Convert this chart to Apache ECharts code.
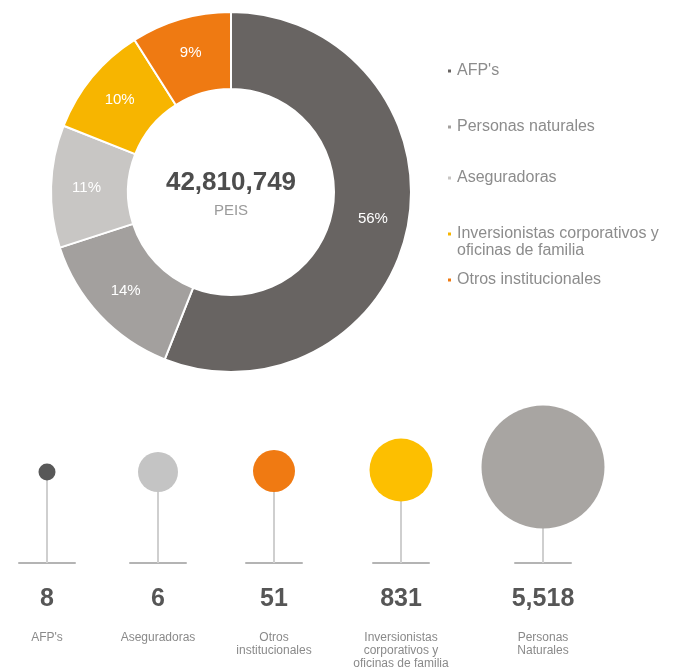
<!DOCTYPE html>
<html>
<head>
<meta charset="utf-8">
<script src="https://cdn.jsdelivr.net/npm/echarts@6/dist/echarts.min.js"></script>
<style>
    html, body { margin: 0; padding: 0; background: #fff; }
    #main { width: 682px; height: 667px; }
</style>
</head>
<body>
<div id="main"></div>
<script>
// donut: share by investor type (%)
let pieNames = ["AFP's", 'Personas naturales', 'Aseguradoras', 'Inversionistas corporativos y oficinas de familia', 'Otros institucionales'];
let pieShares = [56, 14, 11, 10, 9];
let totalValue = '42,810,749';
let totalUnit = 'PEIS';

// lollipops: number of holders by investor type
let holderNames = ["AFP's", 'Aseguradoras', 'Otros\ninstitucionales', 'Inversionistas\ncorporativos y\noficinas de familia', 'Personas\nNaturales'];
let holderCounts = [8, 6, 51, 831, 5518];

// styles / layout
let pieColors = ['#686462', '#a3a09e', '#c8c6c4', '#f7b500', '#ef7a12'];
let legendMid = [66, 122, 173, 228, 275];
let holderColors = ['#585858', '#c4c4c4', '#f07a12', '#fdbf00', '#a8a5a2'];
let holderX = [47, 158, 274, 401, 543];
let holderY = [472, 472, 471, 470, 467];
let holderDiam = [17, 40, 42, 63, 123];

// small square marker sitting on the first text line (works for 1 or 2 lines)
let topSquare = 'path://M0,0L0.01,0L0.01,0.01Z M0,6L5,6L5,11L0,11Z M0,33.99L0.01,33.99L0.01,34Z';

let chart = echarts.init(document.getElementById('main'));

let legends = pieNames.map(function (name, i) {
    let twoLines = name.indexOf(' y ') > -1;
    return {
        left: 441,
        top: legendMid[i] - 8.5,
        orient: 'vertical',
        selectedMode: false,
        data: [name],
        icon: twoLines ? topSquare : 'rect',
        itemWidth: 5,
        itemHeight: twoLines ? 34 : 5,
        textStyle: {
            fontFamily: 'Liberation Sans',
            fontSize: 16,
            lineHeight: 17,
            color: '#8c8c8c'
        },
        formatter: function (n) {
            return n.replace(' y ', ' y\n');
        }
    };
});

let grids = [], xAxes = [], yAxes = [], series = [];

series.push({
    type: 'pie',
    center: [231, 192],
    radius: [103, 180],
    startAngle: 90,
    clockwise: true,
    silent: true,
    itemStyle: {borderColor: '#fff', borderWidth: 2},
    label: {
        show: true,
        position: 'inside',
        formatter: '{c}%',
        color: '#fff',
        fontFamily: 'Liberation Sans',
        fontSize: 15
    },
    labelLine: {show: false},
    data: pieNames.map(function (name, i) {
        return {name: name, value: pieShares[i], itemStyle: {color: pieColors[i]}};
    })
});

holderNames.forEach(function (name, i) {
    grids.push({
        left: holderX[i] - 28,
        width: 56,
        top: holderY[i],
        bottom: 104,
        outerBoundsMode: 'none'
    });
    xAxes.push({
        type: 'category',
        gridIndex: i,
        data: [name],
        axisLine: {lineStyle: {color: '#b4b4b4', width: 2}},
        axisTick: {show: false},
        axisLabel: {
            interval: 0,
            margin: 5,
            formatter: function (n) {
                let lines = n.split('\n').map(function (l) {
                    return '{name|' + l + '}';
                });
                return '{num|' + holderCounts[i].toLocaleString('en-US') + '}\n' + lines.join('\n');
            },
            rich: {
                num: {
                    fontFamily: 'Liberation Sans',
                    fontWeight: 'bold',
                    fontSize: 25,
                    lineHeight: 63,
                    color: '#565656'
                },
                name: {
                    fontFamily: 'Liberation Sans',
                    fontSize: 12,
                    lineHeight: 13,
                    color: '#8a8a8a'
                }
            }
        }
    });
    yAxes.push({
        type: 'value',
        gridIndex: i,
        min: 0,
        max: 'dataMax',
        show: false
    });
    series.push({
        type: 'bar',
        xAxisIndex: i,
        yAxisIndex: i,
        barWidth: 2,
        silent: true,
        itemStyle: {color: '#cfcfcf'},
        data: [holderCounts[i]]
    });
    series.push({
        type: 'scatter',
        xAxisIndex: i,
        yAxisIndex: i,
        silent: true,
        symbolSize: holderDiam[i],
        itemStyle: {color: holderColors[i], opacity: 1},
        data: [holderCounts[i]]
    });
});

let option = {
    backgroundColor: '#fff',
    animation: false,
    legend: legends,
    grid: grids,
    xAxis: xAxes,
    yAxis: yAxes,
    graphic: [
        {
            type: 'text',
            x: 231,
            y: 183,
            style: {
                text: totalValue,
                font: 'bold 26px "Liberation Sans"',
                fill: '#4d4d4d',
                align: 'center',
                verticalAlign: 'middle'
            }
        },
        {
            type: 'text',
            x: 231,
            y: 211,
            style: {
                text: totalUnit,
                font: '15px "Liberation Sans"',
                fill: '#9a9a9a',
                align: 'center',
                verticalAlign: 'middle'
            }
        }
    ],
    series: series
};

chart.setOption(option);
</script>
</body>
</html>
